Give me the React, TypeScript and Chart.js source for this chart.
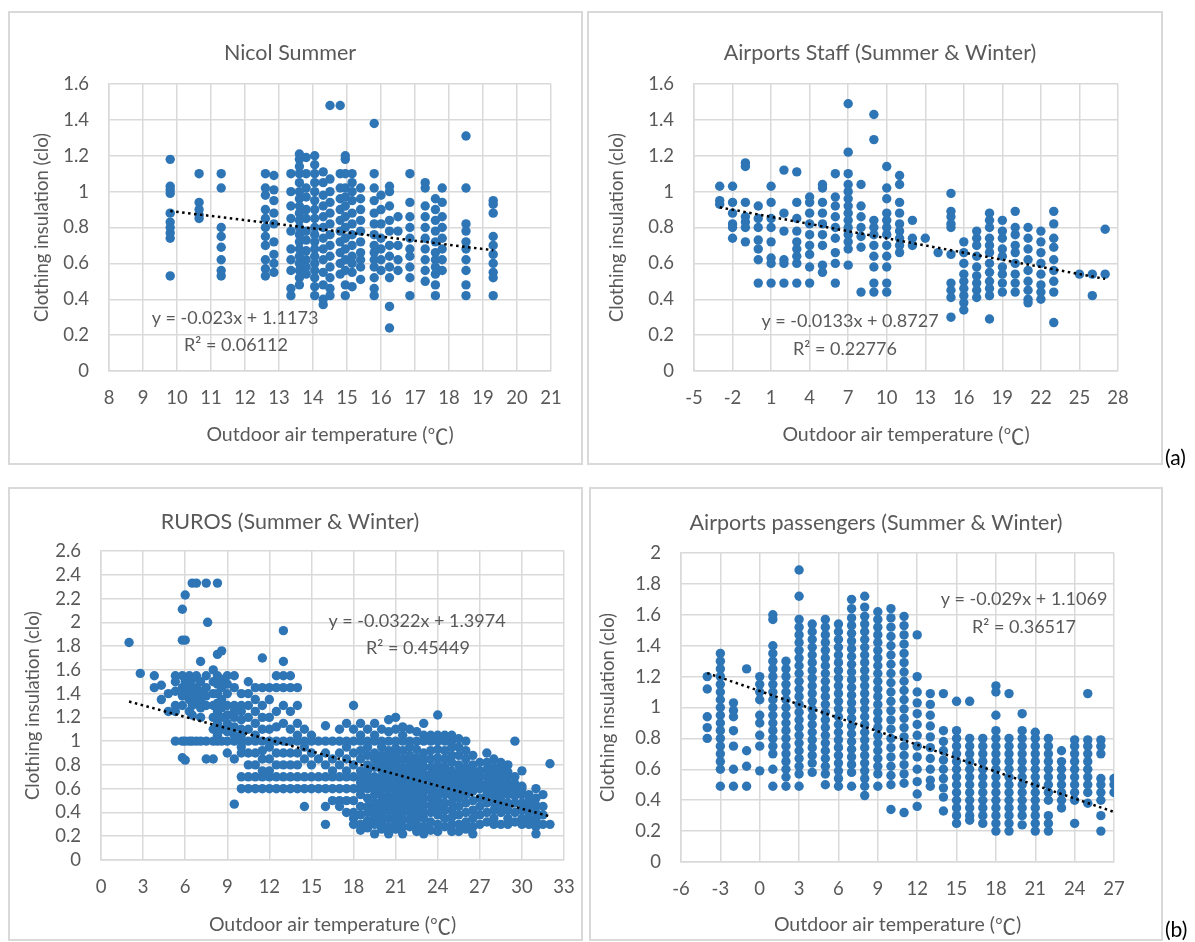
import React, { useEffect, useRef } from "react";
import { Chart, registerables } from "chart.js";
Chart.register(...registerables);

const FONT = "Lato, 'Open Sans', sans-serif";
const CJK = "'Noto Sans CJK SC', 'Noto Sans CJK JP', sans-serif";
const TEXT = "#595959";
const GRID = "#d9d9d9";
const BLUE = "#2E75B6";
const W = 1195;
const H = 942;

// ---------- Nicol Summer ----------
const nicolX = [9.8, 10.65, 11.3, 12.6, 12.85, 13.35, 13.6, 13.8, 14.05, 14.3, 14.5, 14.8, 14.95, 15.15, 15.4, 15.8, 16.0, 16.25, 16.5, 16.85, 17.3, 17.6, 17.8, 18.5, 19.3];
const nicolY = [
  [1.18, 1.03, 1.01, 0.99, 0.88, 0.83, 0.8, 0.77, 0.74, 0.53],
  [1.1, 0.94, 0.9, 0.87, 0.85],
  [1.1, 1.02, 0.8, 0.75, 0.69, 0.62, 0.56, 0.53],
  [1.1, 1.02, 0.98, 0.9, 0.85, 0.8, 0.75, 0.7, 0.62, 0.57, 0.53],
  [1.09, 1.01, 0.95, 0.88, 0.82, 0.72, 0.65, 0.6, 0.55],
  [1.1, 1.0, 0.92, 0.85, 0.78, 0.68, 0.62, 0.56, 0.46, 0.42],
  [1.21, 1.18, 1.14, 1.1, 1.05, 1.0, 0.96, 0.92, 0.88, 0.84, 0.8, 0.76, 0.72, 0.68, 0.64, 0.6, 0.56, 0.52, 0.48],
  [1.19, 1.1, 1.02, 0.97, 0.9, 0.85, 0.78, 0.73, 0.67, 0.62, 0.58, 0.54],
  [1.2, 1.15, 1.1, 1.05, 1.0, 0.95, 0.9, 0.85, 0.8, 0.76, 0.72, 0.68, 0.64, 0.6, 0.56, 0.52, 0.47, 0.42],
  [1.11, 1.05, 0.98, 0.92, 0.86, 0.8, 0.74, 0.68, 0.62, 0.55, 0.48, 0.4, 0.37],
  [1.48, 1.07, 1.0, 0.94, 0.88, 0.82, 0.76, 0.7, 0.64, 0.58, 0.52, 0.46, 0.42],
  [1.48, 1.1, 1.02, 0.96, 0.9, 0.84, 0.78, 0.72, 0.66, 0.6, 0.54],
  [1.2, 1.18, 1.1, 1.02, 0.97, 0.92, 0.86, 0.8, 0.74, 0.68, 0.62, 0.56, 0.48, 0.42],
  [1.1, 1.05, 1.0, 0.95, 0.88, 0.82, 0.76, 0.7, 0.64, 0.6, 0.55, 0.47],
  [1.02, 0.96, 0.9, 0.84, 0.78, 0.72, 0.66, 0.62, 0.58, 0.51],
  [1.38, 1.1, 1.02, 0.95, 0.88, 0.82, 0.76, 0.7, 0.66, 0.62, 0.58, 0.52, 0.46, 0.42],
  [0.98, 0.9, 0.82, 0.74, 0.68, 0.62, 0.56],
  [1.03, 1.0, 0.92, 0.84, 0.78, 0.7, 0.64, 0.58, 0.52, 0.36, 0.24],
  [0.86, 0.78, 0.7, 0.62, 0.56],
  [1.1, 0.94, 0.86, 0.8, 0.74, 0.68, 0.64, 0.58, 0.52, 0.42],
  [1.05, 1.02, 0.92, 0.86, 0.8, 0.74, 0.68, 0.62, 0.56, 0.5],
  [0.96, 0.9, 0.84, 0.78, 0.72, 0.66, 0.62, 0.58, 0.54, 0.48, 0.42],
  [1.02, 0.94, 0.86, 0.8, 0.74, 0.68, 0.62, 0.56],
  [1.31, 1.02, 0.82, 0.78, 0.72, 0.68, 0.62, 0.56, 0.48, 0.42],
  [0.95, 0.93, 0.88, 0.75, 0.7, 0.65, 0.6, 0.55, 0.52, 0.42],
];

// ---------- Airports Staff ----------
const staffX = [-3, -2, -1, 0, 1, 2, 3, 4, 5, 6, 7, 8, 9, 10, 11, 12, 13, 14, 15, 16, 17, 18, 19, 20, 21, 22, 23, 25, 26, 27];
const staffY = [
  [1.03, 0.95, 0.93],
  [1.03, 0.94, 0.88, 0.82, 0.8, 0.74],
  [1.16, 1.14, 0.94, 0.86, 0.83, 0.8, 0.72],
  [0.92, 0.85, 0.8, 0.73, 0.68, 0.62, 0.49],
  [1.03, 0.94, 0.85, 0.8, 0.72, 0.63, 0.6, 0.49],
  [1.12, 0.88, 0.78, 0.62, 0.6, 0.49],
  [1.11, 0.94, 0.85, 0.78, 0.72, 0.68, 0.64, 0.6, 0.49],
  [0.97, 0.94, 0.88, 0.82, 0.76, 0.7, 0.65, 0.58, 0.49],
  [1.04, 1.02, 0.94, 0.88, 0.82, 0.76, 0.7, 0.59, 0.55],
  [1.1, 0.97, 0.92, 0.86, 0.8, 0.74, 0.66, 0.6, 0.49],
  [1.49, 1.22, 1.1, 1.04, 1.0, 0.96, 0.92, 0.88, 0.84, 0.8, 0.76, 0.72, 0.68, 0.59],
  [1.04, 0.92, 0.86, 0.8, 0.75, 0.69, 0.44],
  [1.43, 1.29, 0.84, 0.8, 0.76, 0.7, 0.64, 0.58, 0.49, 0.44],
  [1.14, 1.02, 0.96, 0.88, 0.84, 0.8, 0.76, 0.7, 0.64, 0.58, 0.49, 0.44],
  [1.09, 1.04, 0.94, 0.88, 0.82, 0.78, 0.74, 0.7, 0.66],
  [0.84, 0.74, 0.7],
  [0.74],
  [0.66],
  [0.99, 0.89, 0.86, 0.82, 0.8, 0.65, 0.49, 0.45, 0.41, 0.3],
  [0.72, 0.66, 0.6, 0.54, 0.5, 0.46, 0.42, 0.38, 0.34],
  [0.78, 0.74, 0.7, 0.64, 0.58, 0.53, 0.49, 0.45, 0.41],
  [0.88, 0.84, 0.8, 0.74, 0.7, 0.66, 0.6, 0.55, 0.5, 0.46, 0.42, 0.29],
  [0.84, 0.78, 0.74, 0.68, 0.64, 0.58, 0.54, 0.49, 0.44],
  [0.89, 0.8, 0.76, 0.7, 0.66, 0.6, 0.54, 0.49, 0.44],
  [0.8, 0.74, 0.68, 0.62, 0.56, 0.5, 0.45, 0.4, 0.38],
  [0.78, 0.72, 0.66, 0.6, 0.54, 0.48, 0.44, 0.4],
  [0.89, 0.82, 0.74, 0.69, 0.62, 0.56, 0.5, 0.44, 0.27],
  [0.54],
  [0.54, 0.42],
  [0.79, 0.54],
];

// ---------- RUROS ----------
const rurosX = [2.0, 2.8, 3.8, 4.3, 4.8, 5.3, 5.8, 6.0, 6.3, 6.5, 6.8, 7.1, 7.5, 7.6, 8.0, 8.3, 8.6, 9.0, 9.5, 10.0, 10.5, 11.0, 11.5, 12.0, 12.5, 13.0, 13.5, 14.0, 14.5, 15.0, 15.5, 16.0, 16.5, 17.0, 17.5, 18.0, 18.5, 19.0, 19.5, 20.0, 20.5, 21.0, 21.5, 22.0, 22.5, 23.0, 23.5, 24.0, 24.5, 25.0, 25.5, 26.0, 26.5, 27.0, 27.5, 28.0, 28.5, 29.0, 29.5, 30.0, 30.5, 31.0, 31.5, 32.0];
const rurosY = [
  [1.83],
  [1.57],
  [1.55, 1.45],
  [1.47, 1.35],
  [1.4, 1.25],
  [1.55, 1.5, 1.42, 1.3, 1.25, 1.0],
  [2.11, 1.85, 1.55, 1.45, 1.38, 1.3, 1.0, 0.86],
  [2.23, 1.85, 1.5, 1.42, 1.0, 0.84],
  [1.55, 1.48, 1.4, 1.35, 1.25, 1.0],
  [2.33, 1.52, 1.45, 1.38, 1.3, 1.22, 1.0],
  [2.33, 1.55, 1.45, 1.4, 1.32, 1.0],
  [1.67, 1.5, 1.42, 1.35, 1.28, 1.2, 1.0],
  [2.33, 1.55, 1.45, 1.38, 1.3, 1.0, 0.85],
  [2.0],
  [1.6, 1.5, 1.4, 1.3, 1.2, 1.1, 1.0, 0.85],
  [2.33, 1.73, 1.55, 1.48, 1.4, 1.32, 1.25, 1.15, 1.05, 1.0],
  [1.76, 1.52, 1.45, 1.35, 1.28, 1.2, 1.1, 1.0],
  [1.55, 1.48, 1.4, 1.3, 1.22, 1.15, 1.08, 1.0, 0.9],
  [1.55, 1.45, 1.3, 1.25, 1.2, 1.12, 1.05, 1.0, 0.85, 0.47],
  [1.4, 1.3, 1.25, 1.18, 1.1, 1.05, 1.0, 0.95, 0.9, 0.7, 0.6],
  [1.5, 1.4, 1.3, 1.2, 1.1, 1.0, 0.9, 0.8, 0.7, 0.6],
  [1.45, 1.35, 1.25, 1.15, 1.05, 1.0, 0.9, 0.8, 0.7, 0.6],
  [1.7, 1.45, 1.3, 1.2, 1.1, 1.0, 0.92, 0.85, 0.75, 0.7, 0.6],
  [1.45, 1.35, 1.2, 1.1, 1.0, 0.95, 0.85, 0.75, 0.7, 0.6],
  [1.55, 1.45, 1.25, 1.12, 1.0, 0.9, 0.8, 0.7, 0.6],
  [1.93, 1.67, 1.55, 1.45, 1.3, 1.15, 1.0, 0.9, 0.8, 0.7, 0.6],
  [1.55, 1.45, 1.25, 1.1, 1.0, 0.9, 0.8, 0.7, 0.6],
  [1.45, 1.3, 1.15, 1.05, 1.0, 0.9, 0.8, 0.7, 0.6],
  [1.1, 1.0, 0.95, 0.85, 0.7, 0.6, 0.45],
  [1.05, 1.0, 0.9, 0.8, 0.7, 0.6],
  [1.0, 0.85, 0.7, 0.6],
  [1.13, 1.0, 0.9, 0.8, 0.7, 0.6, 0.45, 0.3],
  [1.0, 0.85, 0.75, 0.7, 0.6, 0.5],
  [1.1, 1.0, 0.9, 0.8, 0.7, 0.6, 0.5, 0.45],
  [1.15, 1.0, 0.95, 0.85, 0.75, 0.7, 0.6, 0.5, 0.4],
  [1.3, 1.1, 1.0, 0.9, 0.8, 0.7, 0.6, 0.5, 0.4, 0.35, 0.3],
  [1.15, 1.05, 1.0, 0.92, 0.85, 0.75, 0.7, 0.65, 0.6, 0.55, 0.45, 0.38, 0.3, 0.25],
  [1.1, 1.0, 0.95, 0.88, 0.8, 0.75, 0.7, 0.65, 0.6, 0.52, 0.45, 0.4, 0.33, 0.27],
  [1.15, 1.05, 1.0, 0.9, 0.85, 0.78, 0.7, 0.64, 0.6, 0.55, 0.48, 0.42, 0.36, 0.3, 0.22],
  [1.1, 1.0, 0.95, 0.88, 0.82, 0.76, 0.7, 0.66, 0.6, 0.55, 0.5, 0.44, 0.38, 0.32, 0.26],
  [1.18, 1.08, 1.0, 0.92, 0.86, 0.8, 0.74, 0.7, 0.65, 0.6, 0.54, 0.48, 0.42, 0.35, 0.28, 0.22],
  [1.2, 1.1, 1.0, 0.94, 0.88, 0.82, 0.76, 0.7, 0.64, 0.6, 0.55, 0.5, 0.44, 0.38, 0.32, 0.26],
  [1.12, 1.05, 1.0, 0.92, 0.85, 0.78, 0.72, 0.68, 0.62, 0.58, 0.52, 0.46, 0.4, 0.34, 0.28, 0.22],
  [1.1, 1.0, 0.95, 0.88, 0.82, 0.76, 0.7, 0.65, 0.6, 0.55, 0.5, 0.45, 0.4, 0.34, 0.28],
  [1.08, 1.0, 0.93, 0.86, 0.8, 0.74, 0.7, 0.64, 0.6, 0.54, 0.48, 0.42, 0.36, 0.3, 0.24],
  [1.15, 1.05, 1.0, 0.9, 0.84, 0.78, 0.72, 0.68, 0.62, 0.58, 0.52, 0.46, 0.4, 0.35, 0.28, 0.22],
  [1.05, 1.0, 0.92, 0.85, 0.78, 0.72, 0.68, 0.62, 0.58, 0.52, 0.46, 0.4, 0.32, 0.25],
  [1.22, 1.05, 1.0, 0.93, 0.86, 0.8, 0.74, 0.7, 0.64, 0.6, 0.55, 0.5, 0.44, 0.38, 0.3, 0.24],
  [1.05, 1.0, 0.92, 0.85, 0.78, 0.72, 0.66, 0.6, 0.55, 0.48, 0.42, 0.35, 0.28],
  [1.05, 1.0, 0.95, 0.88, 0.82, 0.75, 0.7, 0.64, 0.6, 0.54, 0.48, 0.42, 0.36, 0.3, 0.24],
  [1.02, 0.95, 0.88, 0.8, 0.74, 0.68, 0.62, 0.58, 0.52, 0.45, 0.38, 0.3, 0.24],
  [1.0, 0.92, 0.85, 0.78, 0.72, 0.66, 0.6, 0.55, 0.48, 0.4, 0.32, 0.26],
  [0.88, 0.8, 0.74, 0.68, 0.62, 0.58, 0.5, 0.42, 0.35, 0.28, 0.22],
  [0.82, 0.75, 0.7, 0.64, 0.6, 0.52, 0.45, 0.38, 0.3],
  [0.9, 0.82, 0.76, 0.7, 0.64, 0.6, 0.55, 0.48, 0.4, 0.32],
  [0.85, 0.78, 0.72, 0.66, 0.6, 0.54, 0.48, 0.42, 0.35, 0.3],
  [0.82, 0.76, 0.7, 0.64, 0.6, 0.55, 0.5, 0.45, 0.4, 0.3],
  [0.8, 0.74, 0.7, 0.65, 0.6, 0.55, 0.48, 0.42, 0.35, 0.3],
  [1.0, 0.7, 0.64, 0.6, 0.54, 0.48, 0.4, 0.32],
  [0.75, 0.62, 0.6, 0.55, 0.48, 0.42, 0.35, 0.3],
  [0.55, 0.5, 0.45, 0.4, 0.35, 0.3],
  [0.6, 0.52, 0.46, 0.4, 0.34, 0.28, 0.22],
  [0.55, 0.45, 0.38, 0.3],
  [0.81, 0.3],
];

// ---------- Airports passengers ----------
const paxX = [-4, -3, -2, -1, 0, 1, 2, 3, 4, 5, 6, 7, 8, 9, 10, 11, 12, 13, 14, 15, 16, 17, 18, 19, 20, 21, 22, 23, 24, 25, 26, 27];
const paxY = [
  [1.2, 1.12, 0.94, 0.87, 0.8],
  [1.35, 1.3, 1.25, 1.2, 1.15, 1.1, 1.05, 1.0, 0.95, 0.9, 0.85, 0.8, 0.75, 0.7, 0.65, 0.6, 0.49],
  [1.03, 0.98, 0.94, 0.85, 0.75, 0.6, 0.49],
  [1.25, 0.72, 0.62, 0.49],
  [1.2, 1.15, 1.1, 1.05, 0.95, 0.9, 0.82, 0.75, 0.59],
  [1.6, 1.57, 1.4, 1.35, 1.3, 1.25, 1.2, 1.15, 1.1, 1.05, 1.0, 0.95, 0.9, 0.85, 0.8, 0.75, 0.7, 0.6, 0.49],
  [1.3, 1.25, 1.2, 1.15, 1.1, 1.05, 1.0, 0.95, 0.9, 0.85, 0.8, 0.75, 0.7, 0.65, 0.6, 0.55, 0.49],
  [1.89, 1.72, 1.57, 1.52, 1.47, 1.42, 1.37, 1.32, 1.27, 1.22, 1.17, 1.12, 1.07, 1.02, 0.97, 0.92, 0.87, 0.82, 0.77, 0.72, 0.67, 0.62, 0.57, 0.49],
  [1.54, 1.49, 1.44, 1.39, 1.34, 1.29, 1.24, 1.19, 1.14, 1.09, 1.04, 0.99, 0.94, 0.89, 0.84, 0.79, 0.74, 0.69, 0.64, 0.58],
  [1.57, 1.52, 1.47, 1.42, 1.37, 1.32, 1.27, 1.22, 1.17, 1.12, 1.07, 1.02, 0.97, 0.92, 0.87, 0.82, 0.77, 0.72, 0.67, 0.62, 0.57, 0.5],
  [1.54, 1.49, 1.44, 1.39, 1.34, 1.29, 1.24, 1.19, 1.14, 1.09, 1.04, 0.99, 0.94, 0.89, 0.84, 0.79, 0.74, 0.69, 0.64, 0.59, 0.54, 0.49],
  [1.7, 1.64, 1.58, 1.53, 1.48, 1.43, 1.38, 1.33, 1.28, 1.23, 1.18, 1.13, 1.08, 1.03, 0.98, 0.93, 0.88, 0.83, 0.78, 0.73, 0.68, 0.63, 0.58, 0.49],
  [1.72, 1.65, 1.59, 1.54, 1.49, 1.44, 1.39, 1.34, 1.29, 1.24, 1.19, 1.14, 1.09, 1.04, 0.99, 0.94, 0.89, 0.84, 0.79, 0.74, 0.69, 0.64, 0.59, 0.54, 0.49, 0.43],
  [1.62, 1.57, 1.52, 1.47, 1.42, 1.37, 1.32, 1.27, 1.22, 1.17, 1.12, 1.07, 1.02, 0.97, 0.92, 0.87, 0.82, 0.77, 0.72, 0.67, 0.62, 0.57, 0.49],
  [1.64, 1.58, 1.52, 1.46, 1.4, 1.34, 1.28, 1.22, 1.16, 1.1, 1.04, 0.98, 0.92, 0.86, 0.8, 0.74, 0.68, 0.62, 0.56, 0.5, 0.34],
  [1.59, 1.53, 1.47, 1.41, 1.35, 1.29, 1.23, 1.17, 1.11, 1.05, 0.99, 0.93, 0.87, 0.81, 0.75, 0.69, 0.63, 0.57, 0.51, 0.32],
  [1.47, 1.2, 1.1, 1.03, 0.96, 0.89, 0.82, 0.75, 0.68, 0.6, 0.52, 0.44, 0.36],
  [1.09, 1.02, 0.95, 0.88, 0.81, 0.74, 0.67, 0.6, 0.53, 0.49],
  [1.09, 0.85, 0.78, 0.72, 0.66, 0.6, 0.54, 0.48, 0.42, 0.33],
  [1.04, 0.85, 0.8, 0.75, 0.7, 0.65, 0.6, 0.55, 0.5, 0.45, 0.4, 0.35, 0.3, 0.25],
  [1.04, 0.8, 0.75, 0.7, 0.65, 0.6, 0.55, 0.5, 0.45, 0.4, 0.35, 0.3, 0.27],
  [0.8, 0.75, 0.7, 0.65, 0.6, 0.55, 0.5, 0.45, 0.4, 0.35, 0.3, 0.25],
  [1.14, 1.1, 0.95, 0.85, 0.8, 0.75, 0.7, 0.65, 0.6, 0.55, 0.5, 0.45, 0.4, 0.35, 0.3, 0.25, 0.2],
  [1.09, 0.8, 0.75, 0.7, 0.65, 0.6, 0.55, 0.5, 0.45, 0.4, 0.35, 0.3, 0.25, 0.2],
  [0.96, 0.85, 0.8, 0.75, 0.7, 0.65, 0.6, 0.55, 0.5, 0.45, 0.4, 0.35, 0.3, 0.24],
  [0.84, 0.8, 0.75, 0.7, 0.65, 0.6, 0.55, 0.5, 0.45, 0.4, 0.35, 0.3, 0.25, 0.2],
  [0.8, 0.75, 0.7, 0.65, 0.6, 0.55, 0.5, 0.45, 0.4, 0.3, 0.25, 0.2],
  [0.72, 0.65, 0.6, 0.55, 0.5, 0.45, 0.4, 0.35],
  [0.79, 0.75, 0.7, 0.65, 0.6, 0.55, 0.5, 0.45, 0.4, 0.25],
  [1.09, 0.79, 0.75, 0.7, 0.65, 0.6, 0.55, 0.5, 0.45, 0.38],
  [0.79, 0.75, 0.7, 0.54, 0.5, 0.45, 0.4, 0.3, 0.2],
  [0.54, 0.5, 0.45],
];

// ---------- trendline coefficients (from the equations shown) ----------
const slopes = [-0.023, -0.0133, -0.0322, -0.029];
const intercepts = [1.1173, 0.8727, 1.3974, 1.1069];
const equations = ["y = -0.023x + 1.1173", "y = -0.0133x + 0.8727", "y = -0.0322x + 1.3974", "y = -0.029x + 1.1069"];
const rSquared = ["R² = 0.06112", "R² = 0.22776", "R² = 0.45449", "R² = 0.36517"];
const titles = ["Nicol Summer", "Airports Staff (Summer & Winter)", "RUROS (Summer & Winter)", "Airports passengers (Summer & Winter)"];
const yTitle = "Clothing insulation (clo)";
const xTitleParts = ["Outdoor air temperature (", "℃", ")"];

type Spec = {
  xs: number[];
  ys: number[][];
  xMin: number; xMax: number; xStep: number;
  yMax: number;
  area: [number, number, number, number];
  idx: number;
  titleX: number; titleY: number;
  yTitleX: number;
  xTitleY: number;
  eq: [number, number]; r2: [number, number];
};

const specs: Spec[] = [
  { xs: nicolX, ys: nicolY, xMin: 8, xMax: 21, xStep: 1, yMax: 1.6, area: [109, 84, 551, 371], idx: 0,
    titleX: 290, titleY: 53, yTitleX: 42, xTitleY: 435, eq: [235, 318], r2: [236, 345] },
  { xs: staffX, ys: staffY, xMin: -5, xMax: 28, xStep: 3, yMax: 1.6, area: [694, 84, 1118, 371], idx: 1,
    titleX: 880, titleY: 53, yTitleX: 617, xTitleY: 435, eq: [850, 321], r2: [845, 349] },
  { xs: rurosX, ys: rurosY, xMin: 0, xMax: 33, xStep: 3, yMax: 2.6, area: [101, 551, 564, 860], idx: 2,
    titleX: 290, titleY: 522, yTitleX: 33, xTitleY: 925, eq: [417, 621], r2: [418, 648] },
  { xs: paxX, ys: paxY, xMin: -6, xMax: 27, xStep: 3, yMax: 2, area: [681, 553, 1114, 862], idx: 3,
    titleX: 876, titleY: 523, yTitleX: 608, xTitleY: 925, eq: [1024, 599], r2: [1024, 627] },
];

function Panel({ spec }: { spec: Spec }) {
  const ref = useRef<HTMLCanvasElement | null>(null);
  useEffect(() => {
    if (!ref.current) return;
    const [l, t, r, b] = spec.area;
    const YW = 60;
    const XH = 40;
    const pts = spec.xs.flatMap((x, i) => spec.ys[i].map((y) => ({ x, y })));
    const k = spec.idx;
    const x0 = Math.min(...spec.xs);
    const x1 = Math.max(...spec.xs);
    const trend = [x0, x1].map((x) => ({ x, y: slopes[k] * x + intercepts[k] }));
    const texts = [
      { text: titles[k], x: spec.titleX, y: spec.titleY, size: 21.5, rot: false },
      { text: yTitle, x: spec.yTitleX, y: (t + b) / 2, size: 18.5, rot: true },
      { text: equations[k], x: spec.eq[0], y: spec.eq[1], size: 18, rot: false },
      { text: rSquared[k], x: spec.r2[0], y: spec.r2[1], size: 18, rot: false },
    ];
    const textPlugin = {
      id: "panelText" + k,
      afterDraw(chart: any) {
        const ctx = chart.ctx as CanvasRenderingContext2D;
        for (const it of texts) {
          ctx.save();
          ctx.font = `${it.size}px ${FONT}`;
          ctx.fillStyle = TEXT;
          ctx.textAlign = "center";
          ctx.textBaseline = "middle";
          ctx.translate(it.x, it.y);
          if (it.rot) ctx.rotate(-Math.PI / 2);
          ctx.fillText(it.text, 0, 0);
          ctx.restore();
        }
        // x-axis title, with the full-width ℃ sign
        ctx.save();
        ctx.fillStyle = TEXT;
        ctx.textAlign = "left";
        ctx.textBaseline = "middle";
        const fonts = [`19.5px ${FONT}`, `21px ${CJK}`, `19.5px ${FONT}`];
        const widths = xTitleParts.map((s, i) => {
          ctx.font = fonts[i];
          return ctx.measureText(s).width;
        });
        const total = widths.reduce((a, c) => a + c, 0);
        let cx = (l + r) / 2 - total / 2;
        xTitleParts.forEach((s, i) => {
          ctx.font = fonts[i];
          ctx.fillText(s, cx, spec.xTitleY + (i === 1 ? 1 : 0));
          cx += widths[i];
        });
        ctx.restore();
      },
    };
    const chart = new Chart(ref.current, {
      type: "scatter",
      data: {
        datasets: [
          {
            data: trend,
            showLine: true,
            borderColor: "#000",
            borderWidth: 2.5,
            borderDash: [2.5, 3.5],
            pointRadius: 0,
            fill: false,
          } as any,
          {
            data: pts,
            pointRadius: 4.7,
            pointBorderWidth: 0,
            pointBackgroundColor: BLUE,
            backgroundColor: BLUE,
            borderColor: BLUE,
          },
        ],
      },
      options: {
        responsive: false,
        animation: false,
        devicePixelRatio: 1,
        events: [],
        layout: { padding: { left: l - YW, top: t, right: W - r, bottom: H - b - XH } },
        plugins: { legend: { display: false }, tooltip: { enabled: false }, title: { display: false } },
        scales: {
          x: {
            type: "linear",
            min: spec.xMin,
            max: spec.xMax,
            afterFit: (s: any) => { s.height = XH; },
            ticks: {
              stepSize: spec.xStep,
              autoSkip: false,
              maxRotation: 0,
              padding: 16,
              color: TEXT,
              font: { family: FONT, size: 18.5 },
              callback: (v: any) => String(v),
            },
            grid: { color: GRID, lineWidth: 1.5, drawTicks: false },
            border: { color: GRID, width: 1.5 },
          },
          y: {
            type: "linear",
            min: 0,
            max: spec.yMax,
            afterFit: (s: any) => { s.width = YW; },
            ticks: {
              stepSize: 0.2,
              autoSkip: false,
              padding: 20,
              color: TEXT,
              font: { family: FONT, size: 18.5 },
              callback: (v: any) => String(Math.round(Number(v) * 10) / 10),
            },
            grid: { color: GRID, lineWidth: 1.5, drawTicks: false },
            border: { color: GRID, width: 1.5 },
          },
        },
      } as any,
      plugins: [textPlugin],
    });
    return () => chart.destroy();
  }, [spec]);
  return (
    <canvas
      ref={ref}
      width={W}
      height={H}
      style={{ position: "absolute", left: 0, top: 0, width: W, height: H }}
    />
  );
}

const boxes = [
  { left: 8, top: 11, width: 575, height: 454 },
  { left: 587, top: 11, width: 576, height: 454 },
  { left: 8, top: 487, width: 575, height: 454 },
  { left: 589, top: 487, width: 574, height: 454 },
];

export default function App() {
  return (
    <div style={{ position: "absolute", left: 0, top: 0, width: W, height: H, background: "#fff", overflow: "hidden" }}>
      {boxes.map((bx, i) => (
        <div
          key={i}
          style={{
            position: "absolute",
            left: bx.left,
            top: bx.top,
            width: bx.width,
            height: bx.height,
            border: "2px solid #d9d9d9",
            boxSizing: "border-box",
          }}
        />
      ))}
      {specs.map((s, i) => (
        <Panel key={i} spec={s} />
      ))}
      <div style={{ position: "absolute", left: 1165, top: 444, font: `21px ${FONT}`, color: "#000" }}>(a)</div>
      <div style={{ position: "absolute", left: 1165, top: 916, font: `21px ${FONT}`, color: "#000" }}>(b)</div>
    </div>
  );
}
